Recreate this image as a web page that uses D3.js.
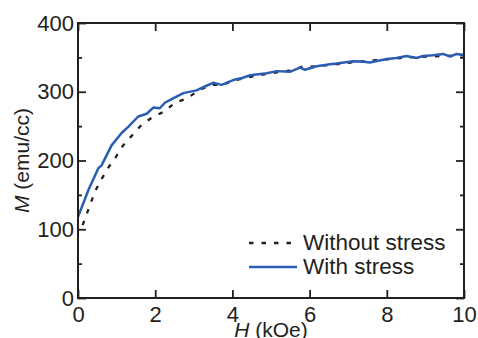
<!DOCTYPE html>
<html>
<head>
<meta charset="utf-8">
<script src="https://cdn.jsdelivr.net/npm/d3@7"></script>
<style>
  body { margin: 0; background: #fff; }
  svg text { font-family: 'Liberation Sans', Arial, sans-serif; fill: #231f20; }
</style>
</head>
<body>
<div id="chart"></div>
<script>
// Without stress (dotted black)
const hWithout = [0.12, 0.31, 0.44, 0.61, 0.79, 0.98, 1.17, 1.41, 1.65, 1.93, 2.23, 2.51, 2.81, 3.16, 3.45, 3.76, 4.0, 4.5, 5.0, 5.5, 5.8, 6.2, 6.5, 7.0, 7.5, 8.0, 8.5, 9.0, 9.5, 10]
const mWithout = [106, 135, 155, 173, 190, 205, 222, 237, 252, 263, 271, 284, 290, 303, 310, 310, 316, 322, 327, 331, 336, 337, 339, 342, 345, 347, 350, 351, 352, 353]

// With stress (solid blue)
const hWith = [0, 0.27, 0.53, 0.61, 0.87, 1.13, 1.30, 1.56, 1.78, 1.95, 2.12, 2.25, 2.45, 2.73, 3.07, 3.30, 3.50, 3.72, 4.02, 4.25, 4.46, 4.89, 5.15, 5.49, 5.75, 5.88, 6.18, 6.53, 6.70, 7.13, 7.35, 7.56, 8.0, 8.25, 8.51, 8.77, 8.94, 9.2, 9.46, 9.64, 9.81, 10]
const mWith = [118, 157, 189, 193, 222, 240, 249, 264, 268, 277, 276, 284, 290, 298, 302, 308, 313, 310, 317, 320, 324, 327, 330, 329, 335, 332, 337, 340, 341, 344.5, 344, 342.5, 347.5, 349, 352, 349, 352, 353, 355, 351, 355, 353.5]

const xTicks = [0, 2, 4, 6, 8, 10]
const yTicks = [0, 100, 200, 300, 400]
const yMinorTicks = [50, 150, 250, 350]
const legendLabels = ['Without stress', 'With stress']

const width = 478
const height = 338
const margin = { top: 23, right: 14, bottom: 40, left: 78 }
const ink = '#231f20'
const blue = '#2b5eb3'

const svg = d3.select('#chart')
  .append('svg')
  .attr('width', width)
  .attr('height', height)

const x = d3.scaleLinear().domain([0, 10]).range([margin.left, width - margin.right])
const y = d3.scaleLinear().domain([0, 400]).range([height - margin.bottom, margin.top])

const seriesWithout = hWithout.map((h, i) => [h, mWithout[i]])
const seriesWith = hWith.map((h, i) => [h, mWith[i]])

const line = d3.line()
  .x(d => x(d[0]))
  .y(d => y(d[1]))

// Curves
svg.append('path')
  .datum(seriesWithout)
  .attr('fill', 'none')
  .attr('stroke', ink)
  .attr('stroke-width', 2.3)
  .attr('stroke-dasharray', '4.5,8')
  .attr('d', line)

svg.append('path')
  .datum(seriesWith)
  .attr('fill', 'none')
  .attr('stroke', blue)
  .attr('stroke-width', 2.5)
  .attr('stroke-linejoin', 'round')
  .attr('d', line)

// Axes, ticks pointing inward on all four sides
function styleAxis(g) {
  g.select('.domain').remove()
  g.selectAll('line').attr('stroke', ink).attr('stroke-width', 1.8)
  g.selectAll('text').attr('font-size', 22).attr('fill', ink)
}

svg.append('g')
  .attr('transform', `translate(0,${y(0)})`)
  .call(d3.axisBottom(x).tickValues(xTicks).tickSize(-8).tickPadding(8).tickFormat(d3.format('d')))
  .call(styleAxis)

svg.append('g')
  .attr('transform', `translate(0,${y(400)})`)
  .call(d3.axisTop(x).tickValues(xTicks).tickSize(-8).tickFormat(''))
  .call(styleAxis)

svg.append('g')
  .attr('transform', `translate(${x(0)},0)`)
  .call(d3.axisLeft(y).tickValues(yTicks).tickSize(-8).tickPadding(4).tickFormat(d3.format('d')))
  .call(styleAxis)

svg.append('g')
  .attr('transform', `translate(${x(0)},0)`)
  .call(d3.axisLeft(y).tickValues(yMinorTicks).tickSize(-4).tickFormat(''))
  .call(styleAxis)

svg.append('g')
  .attr('transform', `translate(${x(10)},0)`)
  .call(d3.axisRight(y).tickValues(yTicks).tickSize(-8).tickFormat(''))
  .call(styleAxis)

svg.append('g')
  .attr('transform', `translate(${x(10)},0)`)
  .call(d3.axisRight(y).tickValues(yMinorTicks).tickSize(-4).tickFormat(''))
  .call(styleAxis)

// Frame
svg.append('rect')
  .attr('x', x(0))
  .attr('y', y(400))
  .attr('width', x(10) - x(0))
  .attr('height', y(0) - y(400))
  .attr('fill', 'none')
  .attr('stroke', ink)
  .attr('stroke-width', 2)

// Axis titles
const xTitle = svg.append('text')
  .attr('x', (x(0) + x(10)) / 2)
  .attr('y', 337)
  .attr('text-anchor', 'middle')
  .attr('font-size', 21)
xTitle.append('tspan').attr('font-style', 'italic').text('H')
xTitle.append('tspan').text(' (kOe)')

const yTitle = svg.append('text')
  .attr('transform', `translate(29,${(y(0) + y(400)) / 2}) rotate(-90)`)
  .attr('text-anchor', 'middle')
  .attr('font-size', 21)
yTitle.append('tspan').attr('font-style', 'italic').text('M')
yTitle.append('tspan').text(' (emu/cc)')

// Legend
const legend = svg.append('g').attr('transform', 'translate(249,243)')

legend.append('line')
  .attr('x1', 0).attr('x2', 48).attr('y1', 0).attr('y2', 0)
  .attr('stroke', ink).attr('stroke-width', 2.3).attr('stroke-dasharray', '4.5,8')

legend.append('line')
  .attr('x1', 0).attr('x2', 48).attr('y1', 24).attr('y2', 24)
  .attr('stroke', blue).attr('stroke-width', 2.5)

legend.selectAll('text.label')
  .data(legendLabels)
  .join('text')
  .attr('class', 'label')
  .attr('x', 54)
  .attr('y', (d, i) => i * 24 + 7)
  .attr('font-size', 22.5)
  .text(d => d)
</script>
</body>
</html>
